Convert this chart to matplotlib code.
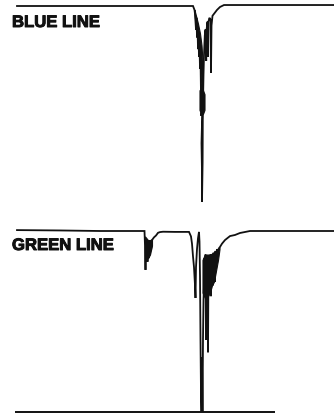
import matplotlib
matplotlib.use("Agg")
import matplotlib.pyplot as plt
import matplotlib.patheffects as pe

# Spectral traces: position along the dispersion axis vs. relative intensity (% of continuum)
blue_pos = [17, 60, 120, 170, 193, 194.5, 195, 196, 196.5, 197, 197.5, 198, 198.5, 199, 199.5,
            200, 200.5, 201, 201.5, 201, 202, 201.2, 202.4, 201.5, 202, 202, 202.6, 202.8,
            203.5, 204, 204.8, 205.5, 206.2, 206.6, 207.5, 208, 208.4, 209.5, 210.5, 211,
            211.5, 212.5, 214, 217, 220, 224, 280, 334]
blue_int = [100, 100, 100, 100, 100, 98, 96, 88, 94, 84, 90, 78, 85, 74, 80,
            68, 74, 55, 60, 48, 52, 44, 48, 30, 15, 0, 20, 45,
            65, 75, 85, 88, 72, 88, 92, 74, 92, 94, 93, 66,
            90, 95, 96, 98, 99.5, 100.5, 100.5, 100.5]

# saturated (over-inked) parts of the blue trace: position, upper and lower envelope
blue_dense_pos = [194.5, 196, 198, 200, 201.5, 202.5]
blue_dense_hi = [98, 95, 91, 86, 80, 72]
blue_dense_lo = [96, 88, 80, 70, 58, 50]
blue_knot_pos = [199.5, 201, 203, 204.5]
blue_knot_hi = [57, 58, 57, 55]
blue_knot_lo = [47, 45, 45, 47]

green_pos = [17, 60, 100, 144.5, 145, 145.5, 146, 146.5, 147, 147.5, 148, 148.5, 149, 149.5,
             150, 151, 152, 154, 156, 158, 160, 163, 175, 189, 191, 192, 193, 194, 195,
             195.5, 196, 197, 198, 199, 199.5, 200, 200.5, 201, 201.5, 202, 202.5, 203,
             203.5, 204, 204.5, 205, 205.5, 206, 206.5, 207, 207.5, 208, 208.5, 209,
             209.5, 210, 210.5, 211, 211.5, 212, 212.5, 213, 213.5, 214, 214.5, 215,
             215.5, 216, 217, 218, 219, 220, 222, 225, 230, 235, 240, 250, 334]
green_int = [100.5, 100.3, 100, 100, 92, 78.5, 95, 84, 93, 83, 92, 85, 93, 87,
             94, 89, 95, 96.5, 97.5, 99, 99.4, 99.6, 99.5, 99.5, 97, 93, 86, 80, 70,
             63, 80, 90, 96, 99.5, 94, 75, 40, 10, 0, 30, 0, 40,
             62, 70, 85, 72, 87, 40, 85, 70, 86, 33, 84, 68,
             86, 75, 87, 64, 86, 74, 87, 70, 88, 80, 87, 72,
             89, 82, 90, 88.5, 90.5, 91.2, 93, 95, 97.2, 97.8, 98.9, 100, 100]

# saturated parts of the green trace
green_dense1_pos = [145, 146.5, 148, 150, 152]
green_dense1_hi = [97, 96, 95, 95, 95.5]
green_dense1_lo = [88, 85, 85, 87, 92]
green_dense2_pos = [202.5, 204, 206, 208, 210, 212, 214, 216, 218, 219.5]
green_dense2_hi = [84, 86, 87, 87, 87, 87.5, 88, 89, 90, 91]
green_dense2_lo = [66, 64, 62, 64, 66, 70, 72, 78, 84, 90]

# Reference axis under the lower trace
axis_start, axis_end = 15, 275

labels = ["BLUE LINE", "GREEN LINE"]

W, H = 334, 413
fig = plt.figure(figsize=(W / 100, H / 100), dpi=100)
fig.patch.set_facecolor("white")

ink = "#111111"

# upper panel: continuum at row 6, zero at row 202
ax1 = fig.add_axes([0, (H - 202) / H, 1, 196 / H])
# lower panel: continuum at row 231, zero at row 412
ax2 = fig.add_axes([0, (H - 412) / H, 1, 181 / H])

for ax in (ax1, ax2):
    ax.set_xlim(0, W)
    ax.set_ylim(0, 100)
    ax.axis("off")

ax1.plot(blue_pos, blue_int, color=ink, lw=1.3, clip_on=False, solid_joinstyle="miter")
ax1.fill_between(blue_dense_pos, blue_dense_lo, blue_dense_hi, color=ink, lw=0.8, clip_on=False)
ax1.fill_between(blue_knot_pos, blue_knot_lo, blue_knot_hi, color=ink, lw=0.8, clip_on=False)

ax2.plot(green_pos, green_int, color=ink, lw=1.3, clip_on=False, solid_joinstyle="miter")
ax2.fill_between(green_dense1_pos, green_dense1_lo, green_dense1_hi, color=ink, lw=0.8, clip_on=False)
ax2.fill_between(green_dense2_pos, green_dense2_lo, green_dense2_hi, color=ink, lw=0.8, clip_on=False)
ax2.hlines(0, axis_start, axis_end, color=ink, lw=1.4, clip_on=False)

font = dict(family=["Liberation Sans", "DejaVu Sans"], weight="bold", size=12, color=ink,
            path_effects=[pe.withStroke(linewidth=0.7, foreground=ink)])
fig.text(12 / W, 1 - 27 / H, labels[0], ha="left", va="baseline", **font)
fig.text(12 / W, 1 - 250 / H, labels[1], ha="left", va="baseline", **font)

fig.savefig("out.png", dpi=100, facecolor="white")
